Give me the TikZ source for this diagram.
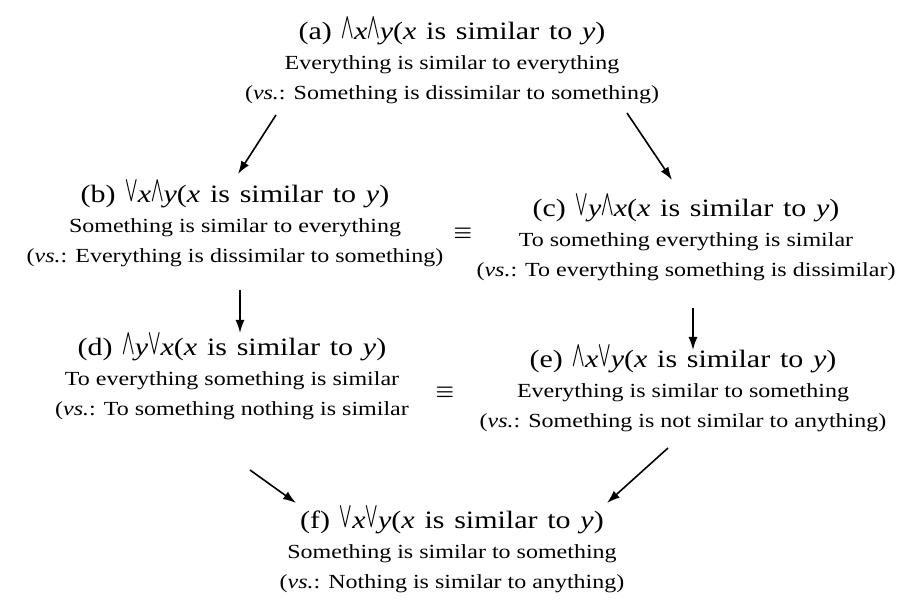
\documentclass[tikz,border=0pt]{standalone}
\usepackage{exscale}
\usepackage{graphicx}
\usepackage{fontspec}
\setmainfont[FakeStretch=1.2]{Liberation Serif}
\newfontfamily\ttlfont[FakeStretch=1.2, WordSpace=1.3]{Liberation Serif}
\usetikzlibrary{arrows.meta}

\newcommand{\allq}{\raisebox{\depth}[0.8em][0pt]{\scalebox{0.6}[0.9]{$\bigwedge$}}}
\newcommand{\someq}{\raisebox{\depth}[0.8em][0pt]{\scalebox{0.6}[0.9]{$\bigvee$}}}
\newcommand{\vx}{\textit{x}}
\newcommand{\vy}{\textit{y}}
\newcommand{\qline}[1]{{\ttlfont\fontsize{25}{30}\selectfont #1}}

\begin{document}
\begin{tikzpicture}[
  x=1pt, y=-1pt,
  claim/.style={anchor=north, align=center, inner sep=0pt, font=\fontsize{20}{30}\selectfont},
  eqv/.style={inner sep=0pt, font=\fontsize{20}{20}\selectfont\boldmath},
  arr/.style={-{Latex[length=13pt,width=9pt]}, line width=1.6pt}
]
\useasboundingbox (0,0) rectangle (903,604);

\node[claim] (a) at (452,19)
  {\qline{(a) \allq\vx\allq\vy(\vx{} is similar to \vy)}\\
   Everything is similar to everything\\
   (\textit{vs.}: Something is dissimilar to something)};
\node[claim] (b) at (235,182)
  {\qline{(b) \someq\vx\allq\vy(\vx{} is similar to \vy)}\\
   Something is similar to everything\\
   (\textit{vs.}: Everything is dissimilar to something)};
\node[claim] (c) at (686,196)
  {\qline{(c) \someq\vy\allq\vx(\vx{} is similar to \vy)}\\
   To something everything is similar\\
   (\textit{vs.}: To everything something is dissimilar)};
\node[claim] (d) at (232,335)
  {\qline{(d) \allq\vy\someq\vx(\vx{} is similar to \vy)}\\
   To everything something is similar\\
   (\textit{vs.}: To something nothing is similar};
\node[claim] (e) at (683,347)
  {\qline{(e) \allq\vx\someq\vy(\vx{} is similar to \vy)}\\
   Everything is similar to something\\
   (\textit{vs.}: Something is not similar to anything)};
\node[claim] (f) at (452,508)
  {\qline{(f) \someq\vx\someq\vy(\vx{} is similar to \vy)}\\
   Something is similar to something\\
   (\textit{vs.}: Nothing is similar to anything)};

\node[eqv] (eq1) at (463,233) {$\equiv$};
\node[eqv] (eq2) at (445,392) {$\equiv$};

\draw[arr] ([shift={(-176,96)}]a.north) -- ([shift={(3,-8)}]b.north);
\draw[arr] ([shift={(175,94)}]a.north) -- ([shift={(-14,-16)}]c.north);
\draw[arr] ([shift={(5,108)}]b.north) -- ([shift={(5,-2)}]b.north |- d.north);
\draw[arr] ([shift={(7,112)}]c.north) -- ([shift={(7,3)}]c.north |- e.north);
\draw[arr] ([shift={(18,135)}]d.north) -- ([shift={(-156,-5)}]f.north);
\draw[arr] ([shift={(-15,101)}]e.north) -- ([shift={(155,-5)}]f.north);
\end{tikzpicture}
\end{document}
